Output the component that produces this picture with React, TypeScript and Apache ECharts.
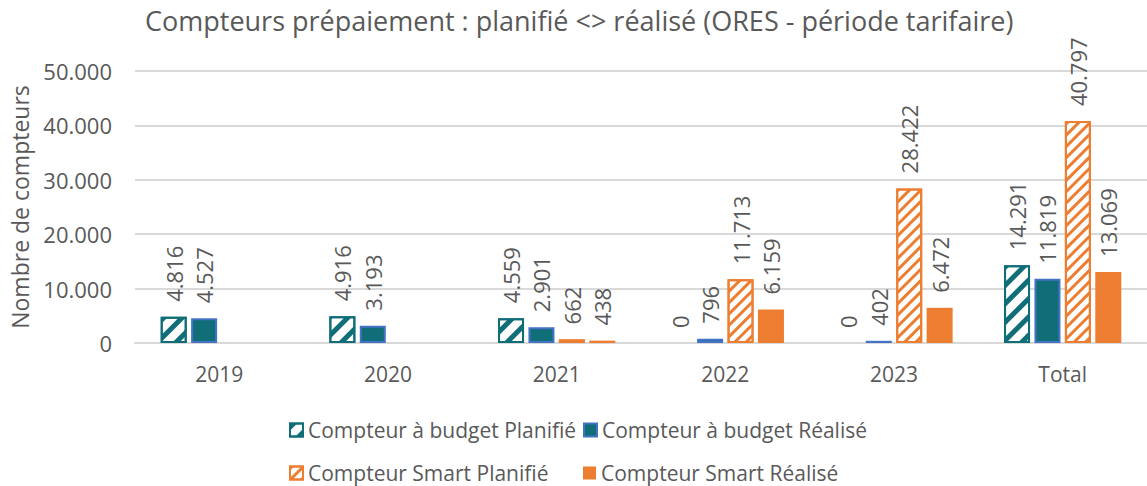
import React, { useEffect, useRef } from "react";
import * as echarts from "echarts";

const categories = ["2019", "2020", "2021", "2022", "2023", "Total"];
const budgetPlanned = [4816, 4916, 4559, 0, 0, 14291];
const budgetRealised = [4527, 3193, 2901, 796, 402, 11819];
const smartPlanned = [null, null, 662, 11713, 28422, 40797];
const smartRealised = [null, null, 438, 6159, 6472, 13069];
const yTicks = [0, 10000, 20000, 30000, 40000, 50000];

const seriesNames = [
  "Compteur à budget Planifié",
  "Compteur à budget Réalisé",
  "Compteur Smart Planifié",
  "Compteur Smart Réalisé",
];

const TEAL = "#0F6E78";
const BLUE = "#4472C4";
const ORANGE = "#ED7D31";
const GREY = "#595959";
const FONT = "Open Sans";

const fmt = (v: number) => String(v).replace(/\B(?=(\d{3})+(?!\d))/g, ".");

const toData = (arr: (number | null)[]) =>
  arr.map((v) => (v === 0 ? { value: 0, itemStyle: { borderWidth: 0 } } : v));

export default function App() {
  const ref = useRef<HTMLDivElement>(null);
  useEffect(() => {
    if (!ref.current) return;
    const chart = echarts.init(ref.current, null, { renderer: "svg" });
    const label = {
      show: true,
      position: "top",
      rotate: 90,
      align: "left",
      verticalAlign: "middle",
      distance: 15,
      color: GREY,
      fontFamily: FONT,
      fontSize: 22,
      formatter: (p: any) => fmt(p.value),
    };
    const legendBase = {
      orient: "horizontal",
      icon: "rect",
      itemWidth: 13,
      itemHeight: 13,
      itemGap: 10,
      padding: 2,
      textStyle: { color: GREY, fontFamily: FONT, fontSize: 21, lineHeight: 24 },
    };
    chart.setOption({
      animation: false,
      title: {
        text: "Compteurs prépaiement : planifié <> réalisé (ORES - période tarifaire)",
        left: 140,
        top: 2,
        textStyle: { color: GREY, fontFamily: FONT, fontSize: 27, fontWeight: "normal" },
      },
      grid: { left: 133, right: -4, top: 71, bottom: 143, containLabel: false },
      legend: [
        { ...legendBase, left: 287, top: 416, data: [seriesNames[0]] },
        { ...legendBase, left: 581, top: 416, data: [seriesNames[1]] },
        { ...legendBase, left: 287, top: 459, data: [seriesNames[2]] },
        { ...legendBase, left: 581, top: 459, data: [seriesNames[3]] },
      ],
      xAxis: {
        type: "category",
        data: categories,
        axisLine: { lineStyle: { color: "#D9D9D9", width: 2 } },
        axisTick: { show: false },
        axisLabel: { color: GREY, fontFamily: FONT, fontSize: 21, margin: 20 },
      },
      yAxis: {
        type: "value",
        min: yTicks[0],
        max: yTicks[yTicks.length - 1],
        interval: 10000,
        name: "Nombre de compteurs",
        nameLocation: "middle",
        nameGap: 104,
        nameTextStyle: { color: GREY, fontFamily: FONT, fontSize: 23 },
        axisLine: { show: false },
        axisTick: { show: false },
        splitLine: { lineStyle: { color: "#D9D9D9", width: 2 } },
        axisLabel: {
          color: GREY,
          fontFamily: FONT,
          fontSize: 22,
          margin: 23,
          formatter: (v: number) => fmt(v),
        },
      },
      series: [
        {
          name: seriesNames[0],
          type: "bar",
          data: toData(budgetPlanned),
          barWidth: 26,
          barGap: "17%",
          itemStyle: {
            color: "#FFFFFF",
            borderColor: TEAL,
            borderWidth: 2,
            decal: {
              symbol: "rect",
              symbolSize: 1,
              color: TEAL,
              dashArrayX: [1, 0],
              dashArrayY: [5, 8],
              rotation: -Math.PI / 4,
            },
          },
          label,
        },
        {
          name: seriesNames[1],
          type: "bar",
          data: toData(budgetRealised),
          barWidth: 26,
          barGap: "17%",
          itemStyle: { color: TEAL, borderColor: BLUE, borderWidth: 2 },
          label,
        },
        {
          name: seriesNames[2],
          type: "bar",
          data: toData(smartPlanned),
          barWidth: 26,
          barGap: "17%",
          itemStyle: {
            color: "#FFFFFF",
            borderColor: ORANGE,
            borderWidth: 2,
            decal: {
              symbol: "rect",
              symbolSize: 1,
              color: ORANGE,
              dashArrayX: [1, 0],
              dashArrayY: [3, 5],
              rotation: -Math.PI / 4,
            },
          },
          label,
        },
        {
          name: seriesNames[3],
          type: "bar",
          data: toData(smartRealised),
          barWidth: 26,
          barGap: "17%",
          itemStyle: { color: ORANGE },
          label,
        },
      ],
    });
    return () => chart.dispose();
  }, []);
  return (
    <div
      ref={ref}
      style={{ position: "absolute", left: 0, top: 0, width: 1147, height: 486 }}
    />
  );
}
